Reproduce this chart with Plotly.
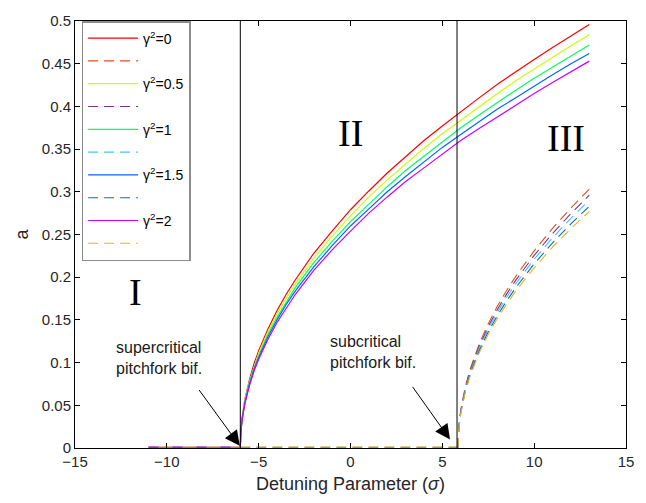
import plotly.graph_objects as go

# ---------------- data ----------------
gamma_labels = ["γ<sup>2</sup>=0", "γ<sup>2</sup>=0.5", "γ<sup>2</sup>=1", "γ<sup>2</sup>=1.5", "γ<sup>2</sup>=2"]

sigma_stable = [-6, -5.97, -5.9, -5.75, -5.5, -5.25, -5, -4.5, -4, -3.5, -3, -2, -1, 0, 1, 2, 3, 4, 5, 6, 7, 8, 9, 10, 11, 12, 13]
a_stable_g0 = [0, 0.020, 0.036, 0.057, 0.080, 0.099, 0.114, 0.139, 0.161, 0.180, 0.197, 0.228, 0.254, 0.279, 0.301, 0.322, 0.341, 0.360, 0.377, 0.394, 0.410, 0.426, 0.441, 0.455, 0.469, 0.483, 0.496]
a_stable_g05 = [0, 0.019, 0.035, 0.056, 0.078, 0.096, 0.111, 0.136, 0.157, 0.175, 0.192, 0.222, 0.248, 0.272, 0.294, 0.314, 0.333, 0.351, 0.368, 0.384, 0.400, 0.415, 0.430, 0.444, 0.457, 0.471, 0.484]
a_stable_g1 = [0, 0.019, 0.034, 0.054, 0.077, 0.094, 0.108, 0.133, 0.153, 0.171, 0.188, 0.217, 0.242, 0.265, 0.286, 0.306, 0.325, 0.342, 0.359, 0.375, 0.390, 0.405, 0.419, 0.433, 0.446, 0.459, 0.472]
a_stable_g15 = [0, 0.018, 0.034, 0.053, 0.075, 0.092, 0.106, 0.130, 0.150, 0.168, 0.184, 0.212, 0.237, 0.260, 0.280, 0.300, 0.318, 0.335, 0.352, 0.367, 0.382, 0.397, 0.410, 0.424, 0.437, 0.450, 0.462]
a_stable_g2 = [0, 0.018, 0.033, 0.052, 0.073, 0.090, 0.104, 0.127, 0.147, 0.164, 0.180, 0.208, 0.232, 0.254, 0.275, 0.294, 0.312, 0.328, 0.344, 0.360, 0.374, 0.388, 0.402, 0.415, 0.428, 0.441, 0.453]

sigma_unstable = [5.85, 5.9, 6.0, 6.25, 6.5, 7, 7.5, 8, 8.5, 9, 10, 11, 12, 13]
a_unstable_g0 = [0, 0.0253, 0.0439, 0.0717, 0.0914, 0.1215, 0.1456, 0.1662, 0.1845, 0.2011, 0.2309, 0.2572, 0.2810, 0.303]
a_unstable_g05 = [0, 0.0248, 0.0429, 0.0700, 0.0892, 0.1187, 0.1422, 0.1623, 0.1802, 0.1965, 0.2255, 0.2512, 0.2745, 0.296]
a_unstable_g1 = [0, 0.0243, 0.0420, 0.0686, 0.0874, 0.1163, 0.1393, 0.1590, 0.1766, 0.1925, 0.2210, 0.2461, 0.2690, 0.290]
a_unstable_g15 = [0, 0.0237, 0.0410, 0.0669, 0.0853, 0.1135, 0.1360, 0.1552, 0.1723, 0.1878, 0.2156, 0.2402, 0.2625, 0.283]
a_unstable_g2 = [0, 0.0232, 0.0401, 0.0655, 0.0835, 0.1111, 0.1331, 0.1519, 0.1687, 0.1839, 0.2110, 0.2351, 0.2569, 0.277]

sigma_trivial_I = [-11, -6]
a_trivial_I = [0, 0]
sigma_trivial_II = [-6, 5.85]
a_trivial_II = [0, 0]

boundaries = [-6, 5.8]

x_ticks = [-15, -10, -5, 0, 5, 10, 15]
y_ticks = [0, 0.05, 0.1, 0.15, 0.2, 0.25, 0.3, 0.35, 0.4, 0.45, 0.5]
y_ticktext = ["0", "0.05", "0.1", "0.15", "0.2", "0.25", "0.3", "0.35", "0.4", "0.45", "0.5"]

region_labels = ["I", "II", "III"]
region_x = [-11.7, 0.0, 11.75]
region_y = [0.183, 0.369, 0.363]

note_texts = ["supercritical<br>pitchfork bif.", "subcritical<br>pitchfork bif."]
note_x = [-12.85, -1.2]
note_y = [0.105, 0.112]
arrow_tip_x = [-6.03, 5.42]
arrow_tip_y = [0.0025, 0.010]
arrow_tail_x = [-8.3, 3.32]
arrow_tail_y = [0.0696, 0.0734]

# ---------------- style ----------------
solid_colors = ["#FF0000", "#CCFF00", "#00FF66", "#0066FF", "#CC00FF"]
dashed_colors = ["#D95319", "#7E2F8E", "#4DBEEE", "#0072BD", "#EDB120"]

stable = [a_stable_g0, a_stable_g05, a_stable_g1, a_stable_g15, a_stable_g2]
unstable = [a_unstable_g0, a_unstable_g05, a_unstable_g1, a_unstable_g15, a_unstable_g2]

fig = go.Figure()
for i in range(5):
    fig.add_trace(go.Scatter(
        x=sigma_stable, y=stable[i], mode="lines", name=gamma_labels[i],
        line=dict(color=solid_colors[i], width=1.2),
        legendgroup=f"g{2*i}", hoverinfo="skip"))
    fig.add_trace(go.Scatter(
        x=sigma_unstable, y=unstable[i], mode="lines", name=" ",
        line=dict(color=dashed_colors[i], width=1.1, dash="10px,6px"),
        legendgroup=f"g{2*i+1}", hoverinfo="skip"))

fig.add_trace(go.Scatter(x=sigma_trivial_I, y=a_trivial_I, mode="lines", showlegend=False,
                         line=dict(color="#D06A40", width=3), hoverinfo="skip"))
fig.add_trace(go.Scatter(x=sigma_trivial_I, y=a_trivial_I, mode="lines", showlegend=False,
                         line=dict(color="#A020F0", width=3, dash="10px,14px"), hoverinfo="skip"))
fig.add_trace(go.Scatter(x=sigma_trivial_II, y=a_trivial_II, mode="lines", showlegend=False,
                         line=dict(color="#A89E3E", width=3, dash="10px,6px"), hoverinfo="skip"))

shapes = []
for b in boundaries:
    shapes.append(dict(type="line", xref="x", yref="paper", x0=b, x1=b, y0=0, y1=1,
                       line=dict(color="black", width=1)))

annotations = []
for t, xx, yy in zip(region_labels, region_x, region_y):
    annotations.append(dict(x=xx, y=yy, xref="x", yref="y", text=t, showarrow=False,
                            font=dict(family="Liberation Serif, Times New Roman, serif", size=38, color="black"),
                            xanchor="center", yanchor="middle"))
for t, xx, yy in zip(note_texts, note_x, note_y):
    annotations.append(dict(x=xx, y=yy, xref="x", yref="y", text=t, showarrow=False, align="left",
                            font=dict(family="Liberation Sans, Arial, sans-serif", size=16, color="#1a1a1a"),
                            xanchor="left", yanchor="middle"))
for tx, ty, sx, sy in zip(arrow_tip_x, arrow_tip_y, arrow_tail_x, arrow_tail_y):
    annotations.append(dict(x=tx, y=ty, ax=sx, ay=sy, xref="x", yref="y", axref="x", ayref="y",
                            text="", showarrow=True, arrowhead=2, arrowsize=3, arrowwidth=1,
                            arrowcolor="black"))

axis_font = dict(family="Liberation Sans, Arial, sans-serif", size=15, color="#262626")
fig.update_layout(
    width=646, height=503,
    margin=dict(l=75, r=20, t=13, b=54),
    paper_bgcolor="white", plot_bgcolor="white",
    shapes=shapes, annotations=annotations,
    legend=dict(x=0.012, y=1.0, xanchor="left", yanchor="top",
                bgcolor="white", bordercolor="#8C8C8C", borderwidth=1.5,
                font=dict(family="Liberation Sans, Arial, sans-serif", size=14, color="black"),
                itemwidth=50, tracegroupgap=1.6, traceorder="grouped"),
    xaxis=dict(range=[-15, 15], tickvals=x_ticks, ticks="inside", ticklen=5, tickcolor="black",
               showline=True, linecolor="black", linewidth=1, mirror="ticks",
               showgrid=False, zeroline=False, tickfont=axis_font,
               title=dict(text="Detuning Parameter (<i>σ</i>)", standoff=8,
                          font=dict(family="Liberation Sans, Arial, sans-serif", size=18, color="#262626"))),
    yaxis=dict(range=[0, 0.5], tickvals=y_ticks, ticktext=y_ticktext, ticks="inside", ticklen=5,
               tickcolor="black", showline=True, linecolor="black", linewidth=1, mirror="ticks",
               showgrid=False, zeroline=False, tickfont=axis_font,
               title=dict(text="a", standoff=8,
                          font=dict(family="Liberation Sans, Arial, sans-serif", size=18, color="#262626"))),
)

fig.write_html("out.html")
